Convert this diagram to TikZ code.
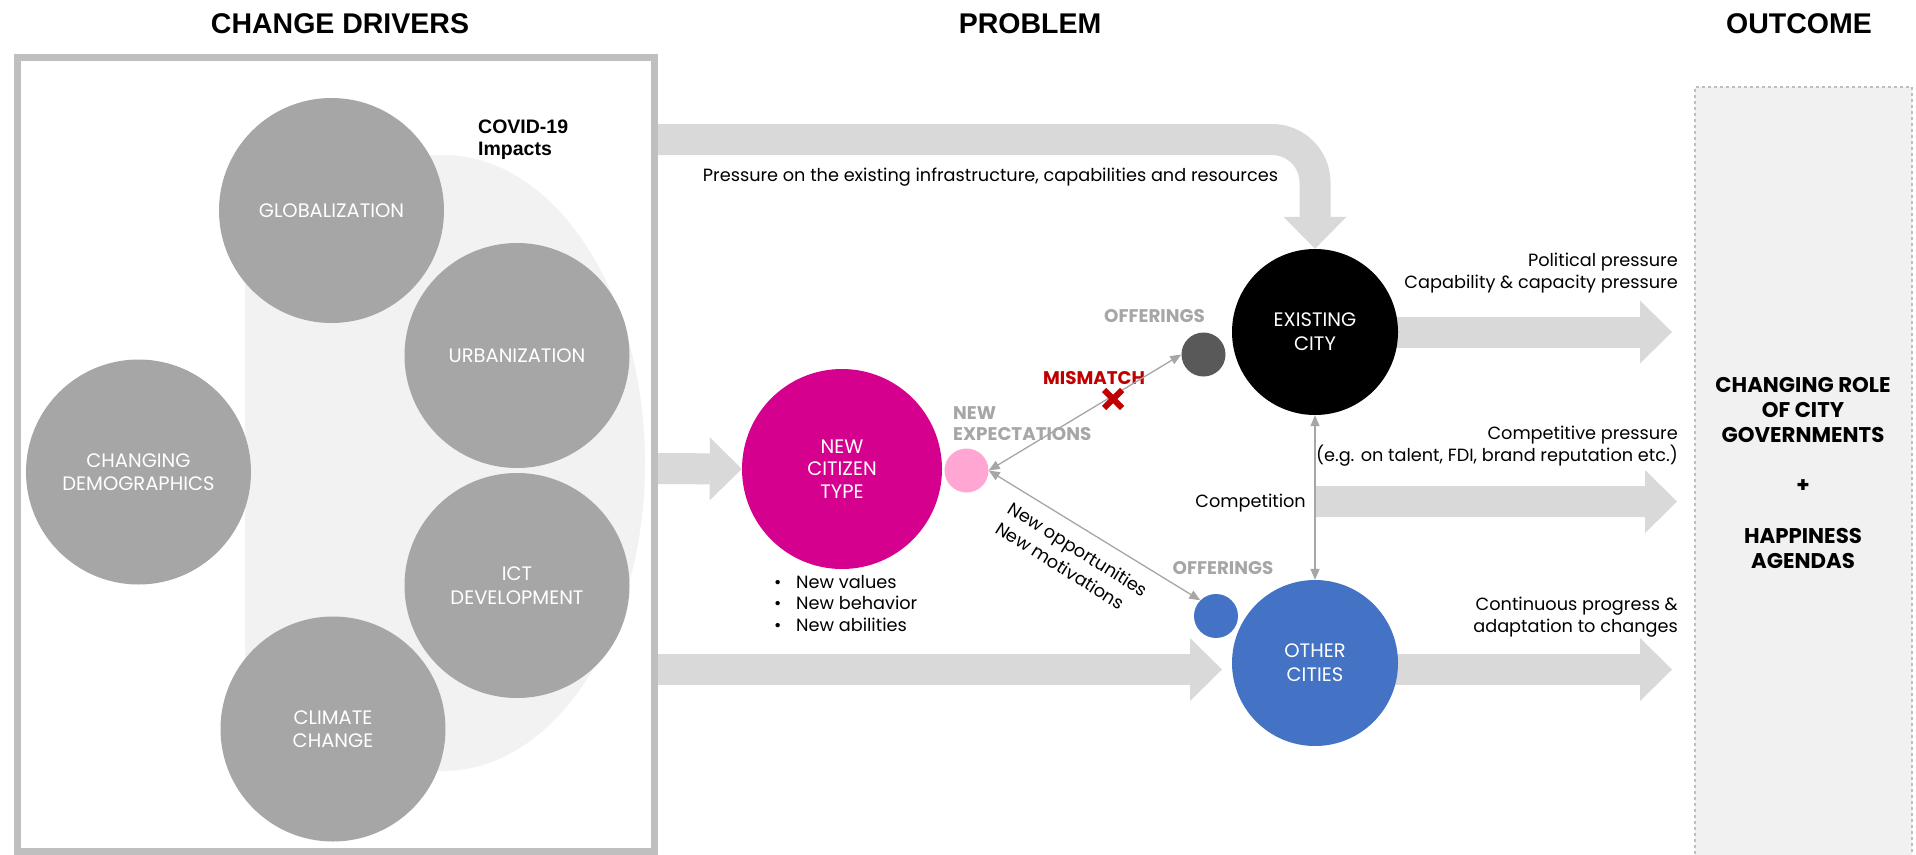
\documentclass[tikz,border=0pt]{standalone}
\usepackage{fontspec}
\setmainfont{Poppins}
\newfontfamily\ttlfont{Liberation Sans}
\usetikzlibrary{arrows.meta}
\pgfdeclarelayer{bg}
\pgfsetlayers{bg,main}
\definecolor{boxgray}{HTML}{BFBFBF}
\definecolor{bandgray}{HTML}{D9D9D9}
\definecolor{bggray}{HTML}{F2F2F2}
\definecolor{cgray}{HTML}{A6A6A6}
\definecolor{magenta1}{RGB}{214,0,143}
\definecolor{pink1}{RGB}{255,166,210}
\definecolor{dark1}{HTML}{595959}
\definecolor{blue1}{HTML}{4472C4}
\definecolor{red1}{HTML}{C00000}
\definecolor{outfill}{HTML}{F1F1F1}
\newcommand\myfs[2]{\fontsize{#1}{#2}\selectfont}
\begin{document}
\begin{tikzpicture}[x=1pt,y=-1pt,
 band/.style={draw=bandgray, line width=31pt, -{Triangle[length=32pt,width=63pt,line width=0pt]}},
 conn/.style={draw=cgray, line width=1.3pt, {Triangle[length=11pt,width=9pt]}-{Triangle[length=11pt,width=9pt]}},
 drv/.style={circle, fill=cgray, minimum size=225pt, inner sep=0pt, text=white, align=center, font=\myfs{19.5}{23.5}, text depth=0pt},
 city/.style={circle, minimum size=166pt, inner sep=0pt, text=white, align=center, font=\myfs{19.5}{24}, text depth=0pt},
 smalldot/.style={circle, minimum size=44pt, inner sep=0pt},
 ttl/.style={font=\ttlfont\bfseries\myfs{28.5}{30}, inner sep=0pt, text depth=0pt},
 txt/.style={font=\myfs{17.7}{21.5}, inner sep=0pt, text depth=0pt},
 lbl/.style={font=\bfseries\myfs{18.3}{20.5}, text=cgray, inner sep=0pt, text depth=0pt},
 outl/.style={font=\bfseries\myfs{21.3}{25}, align=center, inner sep=0pt, text depth=0pt},
]
\useasboundingbox (0,0) rectangle (1916,854);
\begin{pgfonlayer}{bg}
\fill[white] (0,0) rectangle (1916,854);
\fill[bggray] (245,155) -- (443,155) arc[start angle=-90,end angle=90,x radius=202,y radius=308] -- (245,771) -- cycle;
\end{pgfonlayer}

% named coordinates for free band ends
\coordinate (b1s) at (654,139.5);
\coordinate (b1c) at (1315,139.5);
\coordinate (b2s) at (654,468.5);
\coordinate (b3s) at (654,669.5);
\coordinate (b3e) at (1222,669.5);
\coordinate (r1e) at (1672,332);
\coordinate (r2e) at (1677,501.5);
\coordinate (r3e) at (1672,669.5);

% titles
\node[ttl] (t1) at (340,23.5) {CHANGE DRIVERS};
\node[ttl] (t2) at (1030,23.5) {PROBLEM};
\node[ttl] (t3) at (1799,23.5) {OUTCOME};

% change drivers
\node[drv] (glob) at (331.5,210.5) {GLOBALIZATION};
\node[drv] (urb) at (517,355.5) {URBANIZATION};
\node[drv] (demo) at (138.5,472) {CHANGING\\DEMOGRAPHICS};
\node[drv] (ict) at (517,585.5) {ICT\\DEVELOPMENT};
\node[drv] (clim) at (333,729) {CLIMATE\\CHANGE};
\node[font=\ttlfont\bfseries\myfs{19.5}{22}, align=left, anchor=west, inner sep=0pt, text depth=0pt] (covid) at (478,138) {COVID-19\\Impacts};
\node[draw=boxgray, line width=7pt, minimum width=637pt, minimum height=794pt, inner sep=0pt, anchor=north west] (drivers) at (13.5,53.5) {};

% problem
\node[circle, fill=magenta1, minimum size=200pt, inner sep=0pt, text=white, align=center, font=\myfs{19.5}{22.5}, text depth=0pt] (citizen) at (842,469) {NEW\\CITIZEN\\TYPE};
\node[smalldot, fill=pink1] (pink) at (966.5,470.5) {};
\node[smalldot, fill=dark1] (off1) at (1203.5,354.5) {};
\node[smalldot, fill=blue1] (off2) at (1216,616) {};
\node[city, fill=black] (exist) at (1315,332) {EXISTING\\CITY};
\node[city, fill=blue1] (other) at (1315,663) {OTHER\\CITIES};

\node[lbl] (lo1) at (1154.5,315.5) {OFFERINGS};
\node[lbl] (lo2) at (1223,568) {OFFERINGS};
\node[lbl, text=red1] (mis) at (1094,377.5) {MISMATCH};
\node[lbl, anchor=west, align=left] (nexp) at (953,423.5) {NEW\\EXPECTATIONS};

\node[txt] (press) at (990.5,175) {Pressure on the existing infrastructure, capabilities and resources};
\node[txt, anchor=east, align=right] (pol) at (1678,270.75) {Political pressure\\Capability \& capacity pressure};
\node[txt, anchor=east, align=right] (comp) at (1678,444) {Competitive pressure\\(e.g. on talent, FDI, brand reputation etc.)};
\node[txt, anchor=east, align=right] (cont) at (1678,615) {Continuous progress \&\\adaptation to changes};
\node[txt, anchor=east] (compet) at (1306,500.5) {Competition};
\node[txt, anchor=west, align=left] (bul) at (774,603) {\makebox[22pt][l]{•}New values\\\makebox[22pt][l]{•}New behavior\\\makebox[22pt][l]{•}New abilities};
\node[txt, font=\myfs{17.7}{23.5}, align=left, rotate=-32] (opp) at (1072,559) {New opportunities\\New motivations};

% outcome
\node[draw=boxgray, dashed, line width=1.5pt, fill=outfill, minimum width=217pt, minimum height=800pt, inner sep=0pt, anchor=north west] (outcome) at (1694,86) {};
\node[outl] (role) at (1803,409.5) {CHANGING ROLE\\OF CITY\\GOVERNMENTS};
\node[outl] (plus) at (1803,486) {+};
\node[outl] (happy) at (1803,548) {HAPPINESS\\AGENDAS};

% band arrows (under nodes)
\begin{pgfonlayer}{bg}
\draw[band, rounded corners=43pt] (b1s) -- (b1c) -- (exist.north);
\draw[band] (b2s) -- (citizen.west);
\draw[band] (b3s) -- (b3e);
\draw[band] ([xshift=-10pt]exist.east) -- (r1e);
\draw[band] ([yshift=-86.5pt]exist.south) -- (r2e);
\draw[band] ([xshift=-10pt,yshift=-6.5pt]other.east) -- (r3e);
\end{pgfonlayer}

% thin connectors
\draw[conn] (pink.east) -- (off1.west);
\draw[conn] (pink.east) -- (off2.north west);
\draw[conn] (exist.south) -- (other.north);

% mismatch cross
\draw[red1, line width=6pt] (1104,390) -- (1122,408) (1104,408) -- (1122,390);
\end{tikzpicture}
\end{document}
